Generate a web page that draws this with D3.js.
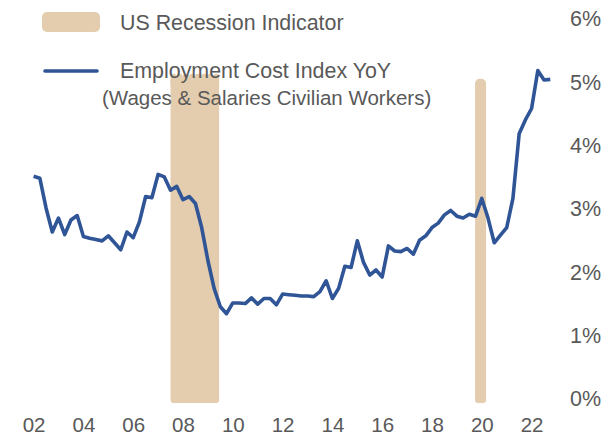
<!DOCTYPE html>
<html>
<head>
<meta charset="utf-8">
<script src="https://cdn.jsdelivr.net/npm/d3@7"></script>
<style>
  html, body { margin: 0; padding: 0; background: #ffffff; }
  svg text { font-family: "Liberation Sans", Arial, Helvetica, sans-serif; fill: #595959; }
</style>
</head>
<body>
<svg id="chart" width="615" height="437"></svg>
<script>
// ---- Data ----
// Employment Cost Index YoY (%), quarterly, starting 2002 Q1
const startYear = 2002;
const eciValues = [
  3.58, 3.55, 3.08, 2.70, 2.92, 2.66, 2.89, 2.96,
  2.63, 2.60, 2.58, 2.56, 2.64, 2.53, 2.42, 2.70,
  2.61, 2.86, 3.26, 3.24, 3.61, 3.57, 3.36, 3.42,
  3.21, 3.26, 3.15, 2.77, 2.25, 1.81, 1.52, 1.41,
  1.58, 1.58, 1.57, 1.66, 1.56, 1.65, 1.65, 1.55,
  1.72, 1.71, 1.70, 1.69, 1.69, 1.68, 1.76, 1.93,
  1.65, 1.81, 2.16, 2.14, 2.56, 2.22, 2.02, 2.10,
  1.99, 2.48, 2.40, 2.39, 2.44, 2.35, 2.57, 2.64,
  2.77, 2.84, 2.97, 3.04, 2.95, 2.92, 2.98, 2.95,
  3.23, 2.92, 2.53, 2.65, 2.77, 3.23, 4.25, 4.47,
  4.65, 5.25, 5.10, 5.11
];
// US recession indicator periods (decimal years) and indicator height (%)
const recessionStart = [2007.5, 2019.73];
const recessionEnd   = [2009.45, 2020.17];
const recessionTop   = [5.2, 5.12];
const recessionBumps = [8, 1];

const xTickYears  = [2002, 2004, 2006, 2008, 2010, 2012, 2014, 2016, 2018, 2020, 2022];
const xTickLabels = ["02", "04", "06", "08", "10", "12", "14", "16", "18", "20", "22"];
const yTickValues = [0, 1, 2, 3, 4, 5, 6];
const yTickLabels = ["0%", "1%", "2%", "3%", "4%", "5%", "6%"];

const legendLabels = ["US Recession Indicator", "Employment Cost Index YoY", "(Wages & Salaries Civilian Workers)"];

// ---- Drawing ----
const svg = d3.select("#chart");
const lineColor = "#2f5597";
const bandColor = "#e4cdae";

const x = d3.scaleLinear().domain([2002, 2022]).range([33.6, 531.6]);
const y = d3.scaleLinear().domain([0, 6]).range([403, 23]);

// Recession bands
recessionStart.forEach((s, k) => {
  const x0 = x(s), x1 = x(recessionEnd[k]);
  const yt = y(recessionTop[k]), yb = y(0);
  const g = svg.append("g");
  g.append("rect")
    .attr("x", x0).attr("y", yt + 4)
    .attr("width", x1 - x0).attr("height", yb - yt - 4)
    .attr("rx", 3).attr("fill", bandColor);
  const n = recessionBumps[k];
  const w = (x1 - x0) / n;
  d3.range(n).forEach(j => {
    g.append("rect")
      .attr("x", x0 + j * w).attr("y", yt)
      .attr("width", w).attr("height", 14)
      .attr("rx", Math.min(w / 2, 5)).attr("ry", Math.min(w / 2, 4.5))
      .attr("fill", bandColor);
  });
});

// Line
const line = d3.line()
  .x((d, i) => x(startYear + i / 4))
  .y(d => y(d));
svg.append("path")
  .datum(eciValues)
  .attr("d", line)
  .attr("fill", "none")
  .attr("stroke", lineColor)
  .attr("stroke-width", 3.6)
  .attr("stroke-linejoin", "round")
  .attr("stroke-linecap", "butt");

// X axis labels
const xAxis = d3.axisBottom(x)
  .tickValues(xTickYears)
  .tickFormat((d, i) => xTickLabels[i])
  .tickSize(0).tickPadding(0);
const xg = svg.append("g").attr("transform", "translate(0,417)").call(xAxis);
xg.select(".domain").remove();
xg.selectAll("text").attr("font-size", 20.5).attr("dy", "0.75em").style("font-family", null);

// Y axis labels (right)
const yAxis = d3.axisRight(y)
  .tickValues(yTickValues)
  .tickFormat((d, i) => yTickLabels[i])
  .tickSize(0).tickPadding(0);
const yg = svg.append("g").attr("transform", "translate(601,-4)").call(yAxis);
yg.select(".domain").remove();
yg.selectAll("text").attr("font-size", 21.5).attr("text-anchor", "end").attr("x", 0).style("font-family", null);
svg.selectAll(".tick text").attr("fill", "#595959");
svg.selectAll("g").attr("font-family", null);

// Legend
svg.append("rect")
  .attr("x", 42).attr("y", 12).attr("width", 58).attr("height", 20)
  .attr("rx", 5).attr("fill", bandColor);
svg.append("text").attr("x", 120).attr("y", 29.5).attr("font-size", 21.4).text(legendLabels[0]);
svg.append("line")
  .attr("x1", 45).attr("x2", 97).attr("y1", 71).attr("y2", 71)
  .attr("stroke", lineColor).attr("stroke-width", 3.6).attr("stroke-linecap", "round");
svg.append("text").attr("x", 120).attr("y", 77.5).attr("font-size", 21.4).text(legendLabels[1]);
svg.append("text").attr("x", 102).attr("y", 104.5).attr("font-size", 20.5).text(legendLabels[2]);
</script>
</body>
</html>
